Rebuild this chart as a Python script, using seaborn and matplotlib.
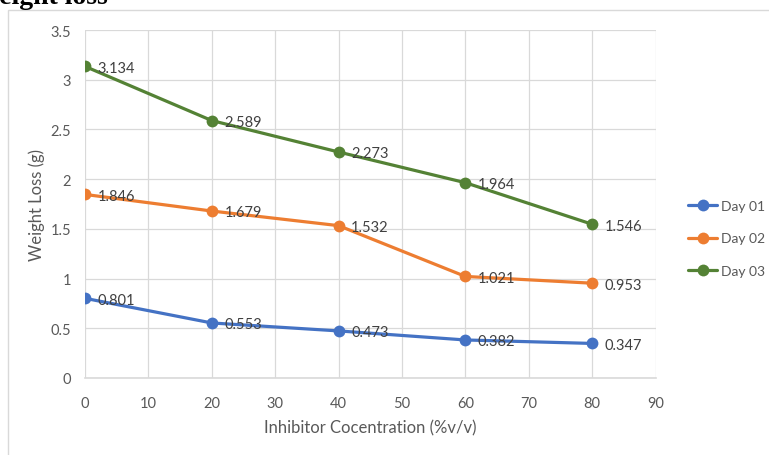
import numpy as np
import matplotlib
matplotlib.use("Agg")
import matplotlib.pyplot as plt
import matplotlib.patches as mpatches
import pandas as pd
import seaborn as sns

conc = [0, 20, 40, 60, 80]
day01 = [0.801, 0.553, 0.473, 0.382, 0.347]
day02 = [1.846, 1.679, 1.532, 1.021, 0.953]
day03 = [3.134, 2.589, 2.273, 1.964, 1.546]
days = ["Day 01", "Day 02", "Day 03"]
colors = ["#4472C4", "#ED7D31", "#548235"]

df = pd.DataFrame({
    "conc": conc * 3,
    "loss": day01 + day02 + day03,
    "day": [d for d in days for _ in conc],
})

sns.set_theme(style="whitegrid")
plt.rcParams["font.family"] = ["Lato", "DejaVu Sans"]
txt = "#595959"

fig = plt.figure(figsize=(7.69, 4.56), dpi=100)
ax = fig.add_axes([0.1105, 0.169, 0.742, 0.763])

g = sns.lineplot(data=df, x="conc", y="loss", hue="day", palette=colors,
                 marker="o", markersize=8.5, markeredgewidth=0, linewidth=2.3,
                 ax=ax)

for d, c in zip(days, colors):
    sub = df[df.day == d]
    for x, y in zip(sub.conc, sub.loss):
        ax.annotate(f"{y:.3f}", (x, y), xytext=(9, -1), textcoords="offset points",
                    ha="left", va="center", fontsize=10.5, color="#404040")

ax.set_xlim(0, 90)
ax.set_ylim(0, 3.5)
ax.set_xticks(range(0, 91, 10))
ax.set_yticks(np.arange(0, 3.51, 0.5))
ax.set_yticklabels(["0", "0.5", "1", "1.5", "2", "2.5", "3", "3.5"])
ax.tick_params(axis="x", length=0, labelsize=10.5, labelcolor=txt, pad=13)
ax.tick_params(axis="y", length=0, labelsize=10.5, labelcolor=txt, pad=10)
ax.grid(True, color="#D9D9D9", linewidth=0.9)
ax.set_facecolor("white")
for s in ["top", "right", "left"]:
    ax.spines[s].set_visible(False)
ax.spines["bottom"].set_color("#D9D9D9")
ax.spines["bottom"].set_linewidth(1.2)
ax.set_xlabel("Inhibitor Cocentration (%v/v)", fontsize=12, color=txt, labelpad=7)
ax.set_ylabel("Weight Loss (g)", fontsize=12, color=txt, labelpad=4)

ax.legend(loc="center left", bbox_to_anchor=(1.035, 0.401), frameon=False,
          fontsize=10, labelcolor=txt, handlelength=2.1, labelspacing=1.45,
          handletextpad=0.25)

# chart frame, cut off at right and bottom as in the screenshot
fig.patches.append(mpatches.Rectangle((8 / 769, -0.1), 1.2, 1.076, transform=fig.transFigure,
                                      fill=False, edgecolor="#D9D9D9", linewidth=1.0))
fig.text(-0.035, 0.992, "Weight loss", fontsize=20, fontweight="bold",
         family=["Liberation Serif", "DejaVu Serif"], color="black", ha="left", va="baseline")

fig.savefig("out.png", dpi=100)
